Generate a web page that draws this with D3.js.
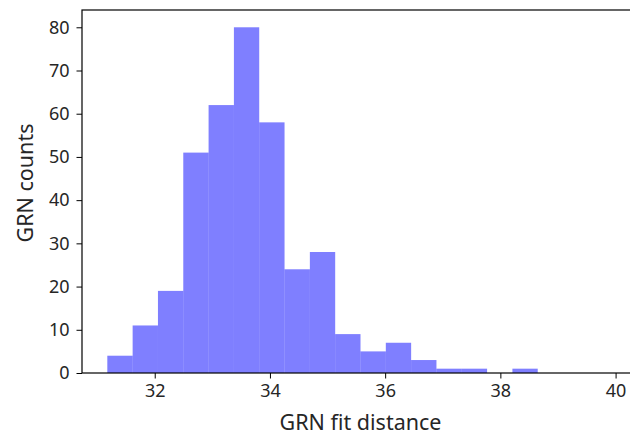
<!DOCTYPE html>
<html>
<head>
<meta charset="utf-8">
<script src="https://cdn.jsdelivr.net/npm/d3@7"></script>
<style>
  body { margin: 0; background: #fff; }
  text { font-family: "Noto Sans", sans-serif; fill: #262626; }
</style>
</head>
<body>
<div id="chart"></div>
<script>
var svgWidth = 630;
var svgHeight = 435;

// histogram bins (GRN fit distance) and counts
var binStart = 31.177;
var binWidth = 0.4395;
var counts = [4, 11, 19, 51, 62, 80, 58, 24, 28, 9, 5, 7, 3, 1, 1, 0, 1, 0, 0, 0];
var xTicks = [32, 34, 36, 38, 40];
var yTicks = [0, 10, 20, 30, 40, 50, 60, 70, 80];

var margin = { top: 10, left: 82, right: -9, bottom: 62 };
var width = svgWidth - margin.left - margin.right;
var height = svgHeight - margin.top - margin.bottom;

var bins = counts.map(function (c, i) {
    return { x0: binStart + i * binWidth, x1: binStart + (i + 1) * binWidth, count: c };
});

var svg = d3.select("#chart").append("svg").attr("width", svgWidth).attr("height", svgHeight);
var chartGroup = svg.append("g").attr("transform", `translate(${margin.left},${margin.top})`);

var xMin = bins[0].x0, xMax = bins[bins.length - 1].x1;
var pad = (xMax - xMin) * 0.05;
var xScale = d3.scaleLinear().domain([xMin - pad, xMax + pad]).range([0, width]);
var yScale = d3.scaleLinear().domain([0, 84]).range([height, 0]);

chartGroup.selectAll("rect").data(bins).enter().append("rect")
    .attr("x", d => xScale(d.x0))
    .attr("width", d => xScale(d.x1) - xScale(d.x0))
    .attr("y", d => yScale(d.count))
    .attr("height", d => yScale(0) - yScale(d.count))
    .attr("fill", "#0000ff").attr("fill-opacity", 0.5);

var bottomAxis = d3.axisBottom(xScale).tickValues(xTicks).tickSize(5.5).tickPadding(6);
var leftAxis = d3.axisLeft(yScale).tickValues(yTicks).tickSize(5.5).tickPadding(7);

var xAxis = chartGroup.append("g").attr("transform", `translate(0,${height})`).call(bottomAxis);
var yAxis = chartGroup.append("g").call(leftAxis);

[xAxis, yAxis].forEach(function (ax) {
    ax.select(".domain").remove();
    ax.selectAll("line").attr("stroke", "#000").attr("stroke-width", 1);
    ax.selectAll("text").attr("font-size", "18px").attr("fill", "#262626")
        .style("font-family", "Noto Sans, sans-serif");
});

// axes frame
chartGroup.append("rect").attr("x", 0).attr("y", 0).attr("width", width).attr("height", height)
    .attr("fill", "none").attr("stroke", "#000").attr("stroke-width", 1.2);

chartGroup.append("text").attr("x", width / 2).attr("y", height + 57)
    .attr("text-anchor", "middle").attr("font-size", "21.5px").text("GRN fit distance");

chartGroup.append("text").attr("transform", "rotate(-90)")
    .attr("x", -(183 - margin.top)).attr("y", -margin.left + 33)
    .attr("text-anchor", "middle").attr("font-size", "21.5px").text("GRN counts");
</script>
</body>
</html>
